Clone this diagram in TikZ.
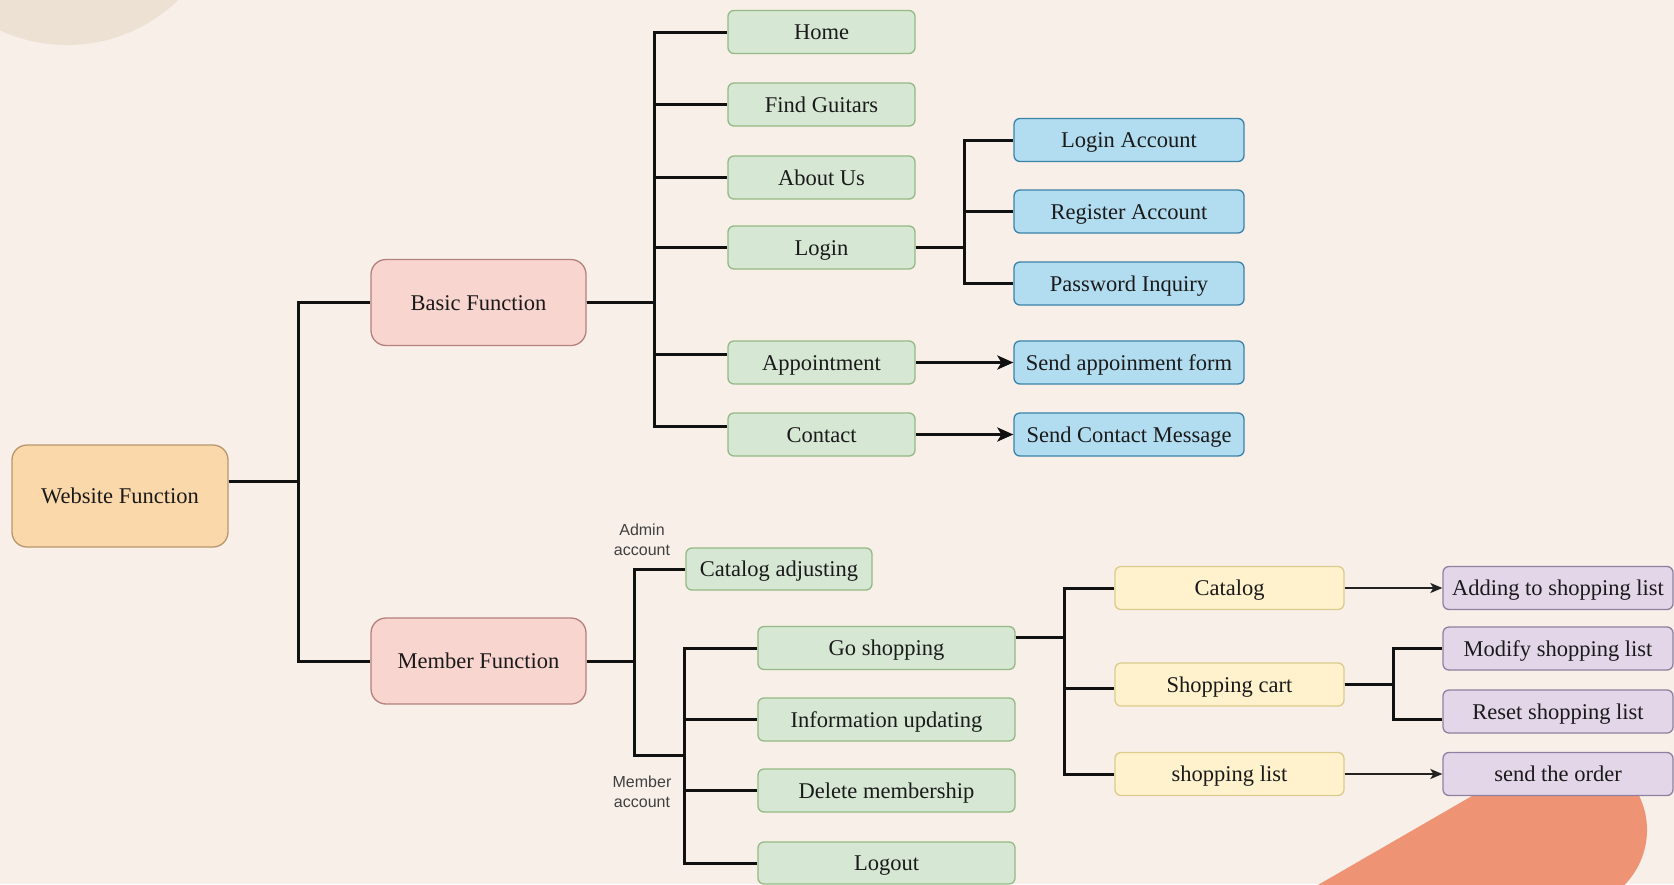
\documentclass[tikz,border=0pt]{standalone}
\usepackage{fontspec}
\setmainfont{Liberation Serif}
\newfontfamily\labelsans{Liberation Sans}
\usetikzlibrary{arrows.meta}
\definecolor{bgc}{HTML}{F8EFE9}
\definecolor{beigec}{HTML}{EDE1D4}
\definecolor{orangec}{HTML}{EE9373}
\definecolor{txtc}{HTML}{1A1A1A}
\definecolor{webfill}{HTML}{FAD8AA}
\definecolor{webdraw}{HTML}{B8976C}
\definecolor{pinkfill}{HTML}{F9D5D0}
\definecolor{pinkdraw}{HTML}{B5807B}
\definecolor{greenfill}{HTML}{D6E8D4}
\definecolor{greendraw}{HTML}{94B984}
\definecolor{bluefill}{HTML}{B2DDF0}
\definecolor{bluedraw}{HTML}{3A83A8}
\definecolor{yellowfill}{HTML}{FFF2CC}
\definecolor{yellowdraw}{HTML}{DCCB8C}
\definecolor{purplefill}{HTML}{E2D6E8}
\definecolor{purpledraw}{HTML}{8F80A2}
\definecolor{linec}{HTML}{111111}
\definecolor{thinc}{HTML}{222222}
\begin{document}
\begin{tikzpicture}[x=1pt,y=-1pt,
  basebox/.style={draw, line width=1.3pt, inner sep=0pt, text=txtc,
    font=\fontsize{22.5}{26}\selectfont, anchor=center,
    text height=15.5pt, text depth=0.5pt},
  bigbox/.style={basebox, rounded corners=15pt, minimum width=215pt, minimum height=86pt},
  webbox/.style={bigbox, fill=webfill, draw=webdraw, minimum width=216pt, minimum height=102pt},
  pinkbox/.style={bigbox, fill=pinkfill, draw=pinkdraw},
  gbox/.style={basebox, rounded corners=6pt, fill=greenfill, draw=greendraw, minimum height=43pt},
  bbox/.style={basebox, rounded corners=6pt, fill=bluefill, draw=bluedraw, minimum width=230pt, minimum height=43pt},
  ybox/.style={basebox, rounded corners=6pt, fill=yellowfill, draw=yellowdraw, minimum width=229pt, minimum height=43pt},
  pbox/.style={basebox, rounded corners=6pt, fill=purplefill, draw=purpledraw, minimum width=230pt, minimum height=43pt},
  conn/.style={draw=linec, line width=3pt},
  arr/.style={draw=linec, line width=3pt, -{Stealth[length=16pt,width=14pt,inset=4pt]}},
  thinarr/.style={draw=thinc, line width=2pt, -{Stealth[length=12pt,width=10pt,inset=3pt]}},
  lbl/.style={align=center, text=black!75, font=\labelsans\fontsize{16}{20}\selectfont, inner sep=0pt}
]
\useasboundingbox (0,0) rectangle (1674,884);
\fill[bgc] (0,0) rectangle (1674,884);
\begin{scope}
  \clip (0,0) rectangle (1674,884);
  \fill[beigec] (67,-115) circle[radius=160pt];
  \draw[orangec, line width=156pt, line cap=round] (1569,830) -- ++(-450,260);
\end{scope}

% root and first level
\node[webbox] (web) at (120,496) {Website Function};
\node[pinkbox] (basic) at (478.5,302.5) {Basic Function};
\node[pinkbox] (member) at (478.5,661) {Member Function};

% basic children
\node[gbox, minimum width=187pt] (home) at (821.5,32) {Home};
\node[gbox, minimum width=187pt] (find) at (821.5,104.5) {Find Guitars};
\node[gbox, minimum width=187pt] (about) at (821.5,177.5) {About Us};
\node[gbox, minimum width=187pt] (login) at (821.5,247.5) {Login};
\node[gbox, minimum width=187pt] (appt) at (821.5,362.5) {Appointment};
\node[gbox, minimum width=187pt] (contact) at (821.5,434.5) {Contact};

\node[bbox] (la) at (1129,140) {Login Account};
\node[bbox] (ra) at (1129,211.5) {Register Account};
\node[bbox] (pi) at (1129,283.5) {Password Inquiry};
\node[bbox] (saf) at (1129,362.5) {Send appoinment form};
\node[bbox] (scm) at (1129,434.5) {Send Contact Message};

% member children
\node[gbox, minimum width=186pt, minimum height=42pt] (ca) at (779,569) {Catalog adjusting};
\node[gbox, minimum width=257pt] (gs) at (886.5,648) {Go shopping};
\node[gbox, minimum width=257pt] (iu) at (886.5,719.5) {Information updating};
\node[gbox, minimum width=257pt] (dm) at (886.5,790.5) {Delete membership};
\node[gbox, minimum width=257pt, minimum height=42pt] (lo) at (886.5,863) {Logout};

\node[ybox] (cat) at (1229.5,588) {Catalog};
\node[ybox] (cart) at (1229.5,684.5) {Shopping cart};
\node[ybox] (sl) at (1229.5,774) {shopping list};

\node[pbox] (add) at (1558,588) {Adding to shopping list};
\node[pbox] (mod) at (1558,648.5) {Modify shopping list};
\node[pbox] (res) at (1558,711.5) {Reset shopping list};
\node[pbox] (sto) at (1558,774) {send the order};

\node[lbl] (adminlbl) at (642,540) {Admin\\account};
\node[lbl] (memberlbl) at (642,792) {Member\\account};

% trunk and port coordinates
\coordinate (tA) at (298,0);
\coordinate (tB) at (654,0);
\coordinate (tL) at (964,0);
\coordinate (tC) at (634,0);
\coordinate (mj) at (684,755);
\coordinate (tE) at (1064,0);
\coordinate (tF) at (1393,0);
\coordinate (webout) at ([yshift=15pt]web.east);
\coordinate (apptin) at ([yshift=8.5pt]appt.west);
\coordinate (contin) at ([yshift=8.5pt]contact.west);
\coordinate (gsout) at ([yshift=11pt]gs.east);
\coordinate (cartin) at ([yshift=-3.5pt]cart.west);
\coordinate (resin) at ([yshift=-7.5pt]res.west);

% root connectors
\draw[conn] (webout) -| (tA |- basic.west) -- (basic.west);
\draw[conn] (webout) -| (tA |- member.west) -- (member.west);

% basic connectors
\foreach \n in {home,find,about,login}
  \draw[conn] (basic.east) -| (tB |- \n.west) -- (\n.west);
\draw[conn] (basic.east) -| (tB |- apptin) -- (apptin);
\draw[conn] (basic.east) -| (tB |- contin) -- (contin);

\foreach \n in {la,ra,pi}
  \draw[conn] (login.east) -| (tL |- \n.west) -- (\n.west);
\draw[arr] (appt.east) -- (saf.west);
\draw[arr] (contact.east) -- (scm.west);

% member connectors
\draw[conn] (member.east) -| (tC |- ca.west) -- (ca.west);
\draw[conn] (member.east) -| (tC |- mj) -- (mj);
\foreach \n in {gs,iu,dm,lo}
  \draw[conn] (mj) |- (\n.west);

\draw[conn] (gsout) -| (tE |- cat.west) -- (cat.west);
\draw[conn] (gsout) -| (tE |- cartin) -- (cartin);
\draw[conn] (gsout) -| (tE |- sl.west) -- (sl.west);

\draw[thinarr] (cat.east) -- (add.west);
\draw[thinarr] (sl.east) -- (sto.west);
\draw[conn] (cart.east) -| (tF |- mod.west) -- (mod.west);
\draw[conn] (cart.east) -| (tF |- resin) -- (resin);
\end{tikzpicture}
\end{document}
